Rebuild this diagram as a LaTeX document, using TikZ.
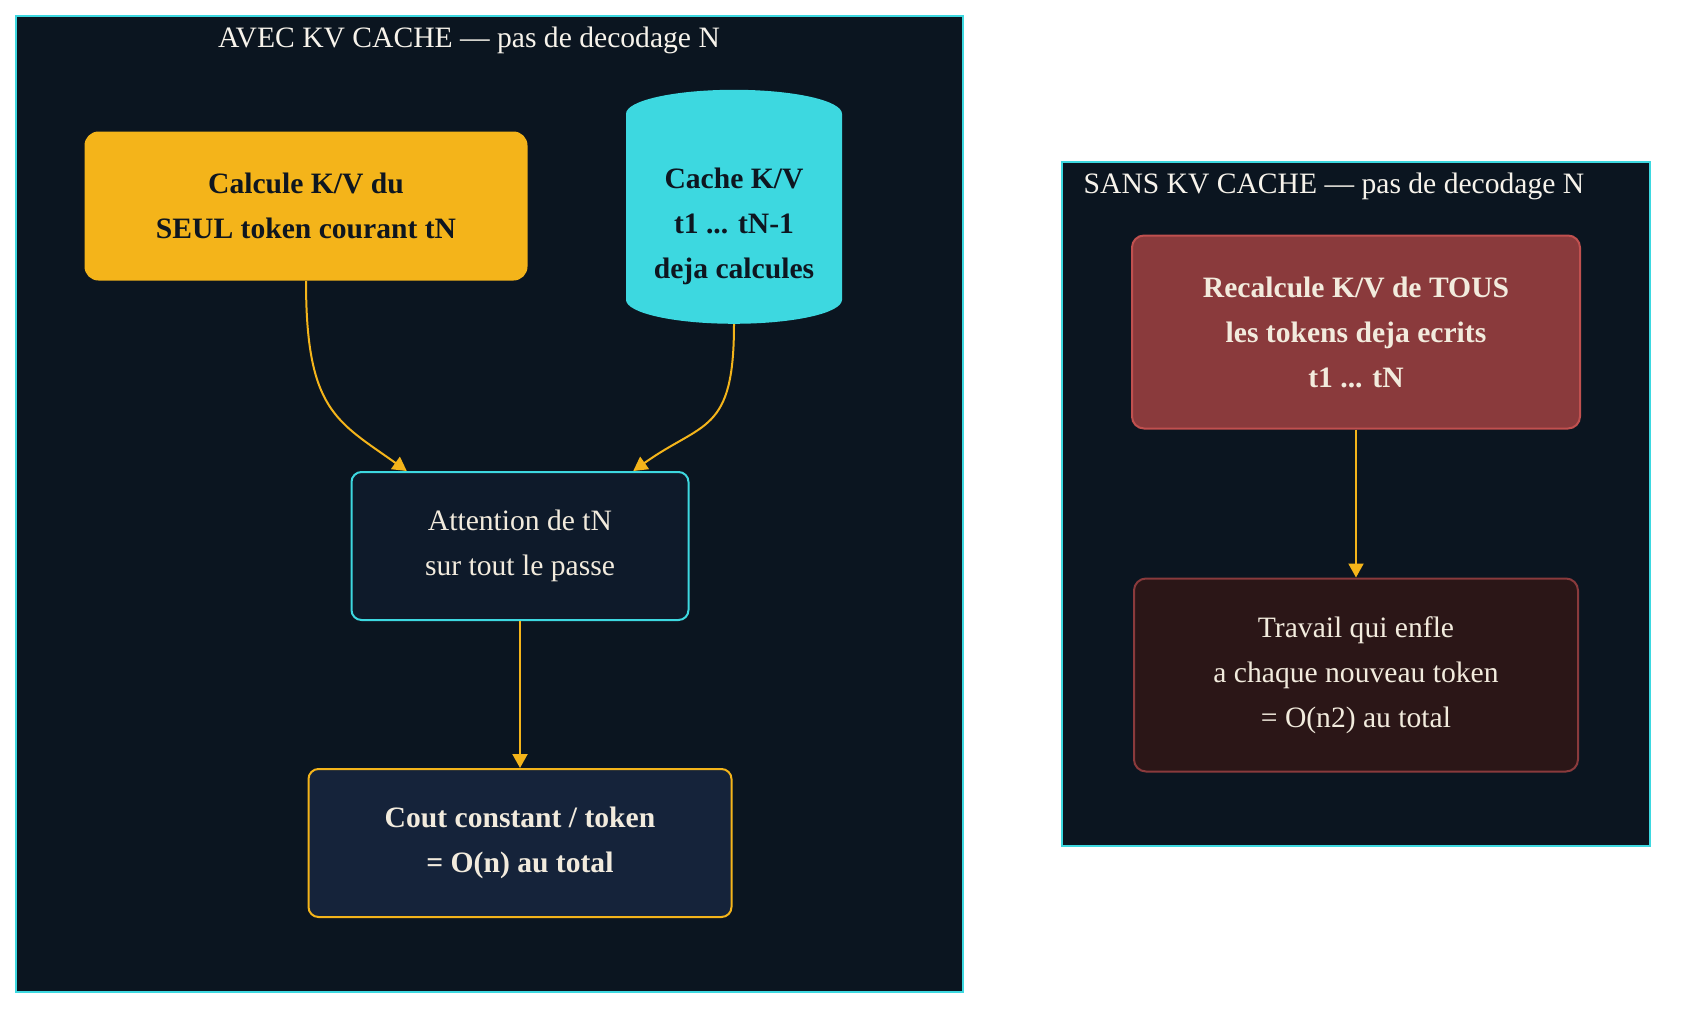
\documentclass[tikz,border=0pt]{standalone}
\usepackage{fontspec}
\setmainfont{Liberation Serif}
\usepackage{tikz}
\usetikzlibrary{shapes.geometric, positioning, arrows.meta, calc}
\definecolor{panelBg}{HTML}{0B1520}
\definecolor{cacheCyan}{HTML}{3DD8E0}
\definecolor{accentYellow}{HTML}{F4B41A}
\definecolor{attnFill}{HTML}{0E1A2A}
\definecolor{coutFill}{HTML}{15233A}
\definecolor{recalcFill}{HTML}{8A3A3C}
\definecolor{recalcLine}{HTML}{C0504F}
\definecolor{travailFill}{HTML}{2B1617}
\definecolor{creamText}{HTML}{F2EBDD}
\definecolor{darkText}{HTML}{0E1620}

\begin{document}
\begin{tikzpicture}[
    x=0.5pt, y=-0.5pt,
    every node/.style={font=\fontsize{14.8}{22.5}\selectfont, align=center},
    panel/.style={draw=cacheCyan, fill=panelBg, line width=1pt},
    paneltitle/.style={text=creamText!60!white},
    calcbox/.style={
        rectangle, rounded corners=7pt,
        fill=accentYellow, text=darkText, font=\fontsize{14.8}{22.5}\selectfont\bfseries,
        minimum width=221.5pt, minimum height=74.5pt
    },
    cachebox/.style={
        cylinder, shape border rotate=90, aspect=0.3,
        fill=cacheCyan, text=darkText, font=\fontsize{14.8}{22.5}\selectfont\bfseries,
        minimum width=108pt, minimum height=117pt, inner sep=0pt
    },
    attnbox/.style={
        rectangle, rounded corners=5pt,
        draw=cacheCyan, fill=attnFill, line width=1pt, text=creamText,
        minimum width=168.5pt, minimum height=74pt
    },
    coutbox/.style={
        rectangle, rounded corners=5pt,
        draw=accentYellow, fill=coutFill, line width=1pt, text=creamText,
        font=\fontsize{14.8}{22.5}\selectfont\bfseries,
        minimum width=211.5pt, minimum height=74pt
    },
    recalcbox/.style={
        rectangle, rounded corners=6pt,
        draw=recalcLine, fill=recalcFill, line width=1pt, text=creamText,
        font=\fontsize{14.8}{22.5}\selectfont\bfseries,
        minimum width=224pt, minimum height=96.5pt
    },
    travailbox/.style={
        rectangle, rounded corners=6pt,
        draw=recalcFill, fill=travailFill, line width=1pt, text=creamText,
        minimum width=222pt, minimum height=96.5pt
    },
    arrow/.style={-{Triangle[length=7pt, width=7.5pt]}, line width=1pt, draw=accentYellow},
]
% === PAGE AND PANELS ===
\fill[white] (0,0) rectangle (1682,1018);
\useasboundingbox (0,0) rectangle (1682,1018);
\draw[panel] (16,16) rectangle (963,992);
\draw[panel] (1062,162) rectangle (1650,846);
\node[paneltitle] (avectitle) at (469,40) {AVEC KV CACHE — pas de decodage N};
\node[paneltitle] (sanstitle) at (1334,186) {SANS KV CACHE — pas de decodage N};

% === AVEC KV CACHE ===
\node[calcbox] (calc) at (306,206) {Calcule K/V du\\SEUL token courant tN};
% strut on the first line pushes the text a bit lower in the cylinder
\node[cachebox] (cache) at (734,219) {\rule{0pt}{18pt}Cache K/V\\t1 ... tN-1\\deja calcules};
\node[attnbox] (attn) at (520,546) {Attention de tN\\sur tout le passe};
\node[coutbox] (cout) at (520,843) {Cout constant / token\\= O(n) au total};

% === SANS KV CACHE ===
\node[recalcbox] (recalc) at (1356,332) {Recalcule K/V de TOUS\\les tokens deja ecrits\\t1 ... tN};
\node[travailbox] (travail) at (1356,675) {Travail qui enfle\\a chaque nouveau token\\= O(n2) au total};

% === ARROWS ===
% calc → attn
\draw[arrow] (calc.south) .. controls +(0,130) and +(-70,-50) ..
    ($(attn.north west)!0.166!(attn.north east)$);

% cache → attn
\draw[arrow] (cache.south) .. controls +(0,110) and +(70,-50) ..
    ($(attn.north west)!0.834!(attn.north east)$);

% attn → cout
\draw[arrow] (attn) -- (cout);

% recalc → travail
\draw[arrow] (recalc) -- (travail);
\end{tikzpicture}
\end{document}
